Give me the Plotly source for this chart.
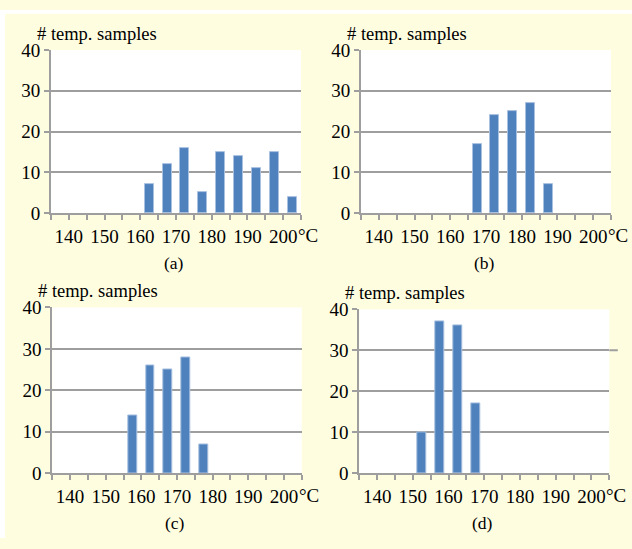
import plotly.graph_objects as go

# ---- data ----
bin_centers = [137.5, 142.5, 147.5, 152.5, 157.5, 162.5, 167.5, 172.5,
               177.5, 182.5, 187.5, 192.5, 197.5, 202.5]
counts_a = [0, 0, 0, 0, 0, 7, 12, 16, 5, 15, 14, 11, 15, 4]
counts_b = [0, 0, 0, 0, 0, 0, 17, 24, 25, 27, 7, 0, 0, 0]
counts_c = [0, 0, 0, 0, 14, 26, 25, 28, 7, 0, 0, 0, 0, 0]
counts_d = [0, 0, 0, 10, 37, 36, 17, 0, 0, 0, 0, 0, 0, 0]
panel_labels = ["(a)", "(b)", "(c)", "(d)"]
tick_vals = [135, 140, 145, 150, 155, 160, 165, 170, 175, 180, 185, 190, 195, 200, 205]
tick_text = ["", "140", "", "150", "", "160", "", "170", "", "180", "", "190", "", "200", ""]
y_title = "# temp. samples"
unit = "°C"

W, H = 632, 549
def fx(px): return px / W
def fy(py): return 1 - py / H

# panel pixel boxes: left, right, top, bottom
boxes = [(51, 301, 41.7, 211), (361, 611, 41.7, 211),
         (52.3, 301.7, 309.3, 481.7), (359.3, 609.3, 311.3, 481.7)]
series = [counts_a, counts_b, counts_c, counts_d]

FONT = "Liberation Serif"
GRID = "#9e9e9e"
fig = go.Figure()
annotations = []
for i, (cnts, box) in enumerate(zip(series, boxes)):
    l, r, t, b = box
    xa = "x" if i == 0 else f"x{i+1}"
    ya = "y" if i == 0 else f"y{i+1}"
    # empty bins are not drawn (no outline stub on the axis)
    yvals = [v if v > 0 else None for v in cnts]
    fig.add_trace(go.Bar(x=bin_centers, y=yvals, width=2.5, xaxis=xa, yaxis=ya,
                         marker=dict(color="#4f81bd", line=dict(color="#a9c1e0", width=1)),
                         showlegend=False))
    sfx = "" if i == 0 else str(i + 1)
    fig.update_layout(**{
        f"xaxis{sfx}": dict(domain=[fx(l), fx(r)], anchor=ya, range=[135, 205],
                            tickmode="array", tickvals=tick_vals, ticktext=tick_text,
                            ticks="outside", ticklen=5, tickwidth=2, tickcolor=GRID,
                            showline=True, linecolor=GRID, linewidth=2,
                            showgrid=False, zeroline=False, fixedrange=True,
                            tickfont=dict(family=FONT, size=19, color="black")),
        f"yaxis{sfx}": dict(domain=[fy(b), fy(t)], anchor=xa, range=[0, 40],
                            tickvals=[0, 10, 20, 30, 40],
                            ticks="outside", ticklen=5, tickwidth=2, tickcolor=GRID,
                            showline=True, linecolor=GRID, linewidth=2,
                            showgrid=True, gridcolor=GRID, gridwidth=2, zeroline=False,
                            tickfont=dict(family=FONT, size=19, color="black")),
    })
    # y title
    annotations.append(dict(text=y_title, xref="paper", yref="paper",
                            x=fx(l - 16), y=fy(t - 17), xanchor="left", yanchor="middle",
                            showarrow=False, font=dict(family=FONT, size=18.5, color="black")))
    # unit after 200
    annotations.append(dict(text=unit, xref=xa, yref="paper", x=200, xshift=13,
                            y=fy(b + 23), xanchor="left", yanchor="middle",
                            showarrow=False, font=dict(family=FONT, size=19, color="black")))
    # caption
    annotations.append(dict(text=panel_labels[i], xref="paper", yref="paper",
                            x=fx((l + r) / 2 - 2), y=fy(b + 52), xanchor="center", yanchor="middle",
                            showarrow=False, font=dict(family=FONT, size=17.5, color="black")))

fig.update_layout(
    width=W, height=H, margin=dict(l=0, r=0, t=0, b=0),
    paper_bgcolor="#fefde0", plot_bgcolor="white",
    bargap=0, annotations=annotations,
    shapes=[dict(type="rect", xref="paper", yref="paper", x0=0, x1=fx(5), y0=0, y1=1,
                 fillcolor="white", line=dict(width=0), layer="below"),
            dict(type="rect", xref="paper", yref="paper", x0=0, x1=1, y0=fy(4), y1=1,
                 fillcolor="white", line=dict(width=0), layer="below"),
            # the 30-gridline of panel (d) runs a little past the plot area
            dict(type="line", xref="x4 domain", yref="y4", x0=1, x1=1.034, y0=30, y1=30,
                 line=dict(color=GRID, width=2))],
)
fig.write_html("out.html")
